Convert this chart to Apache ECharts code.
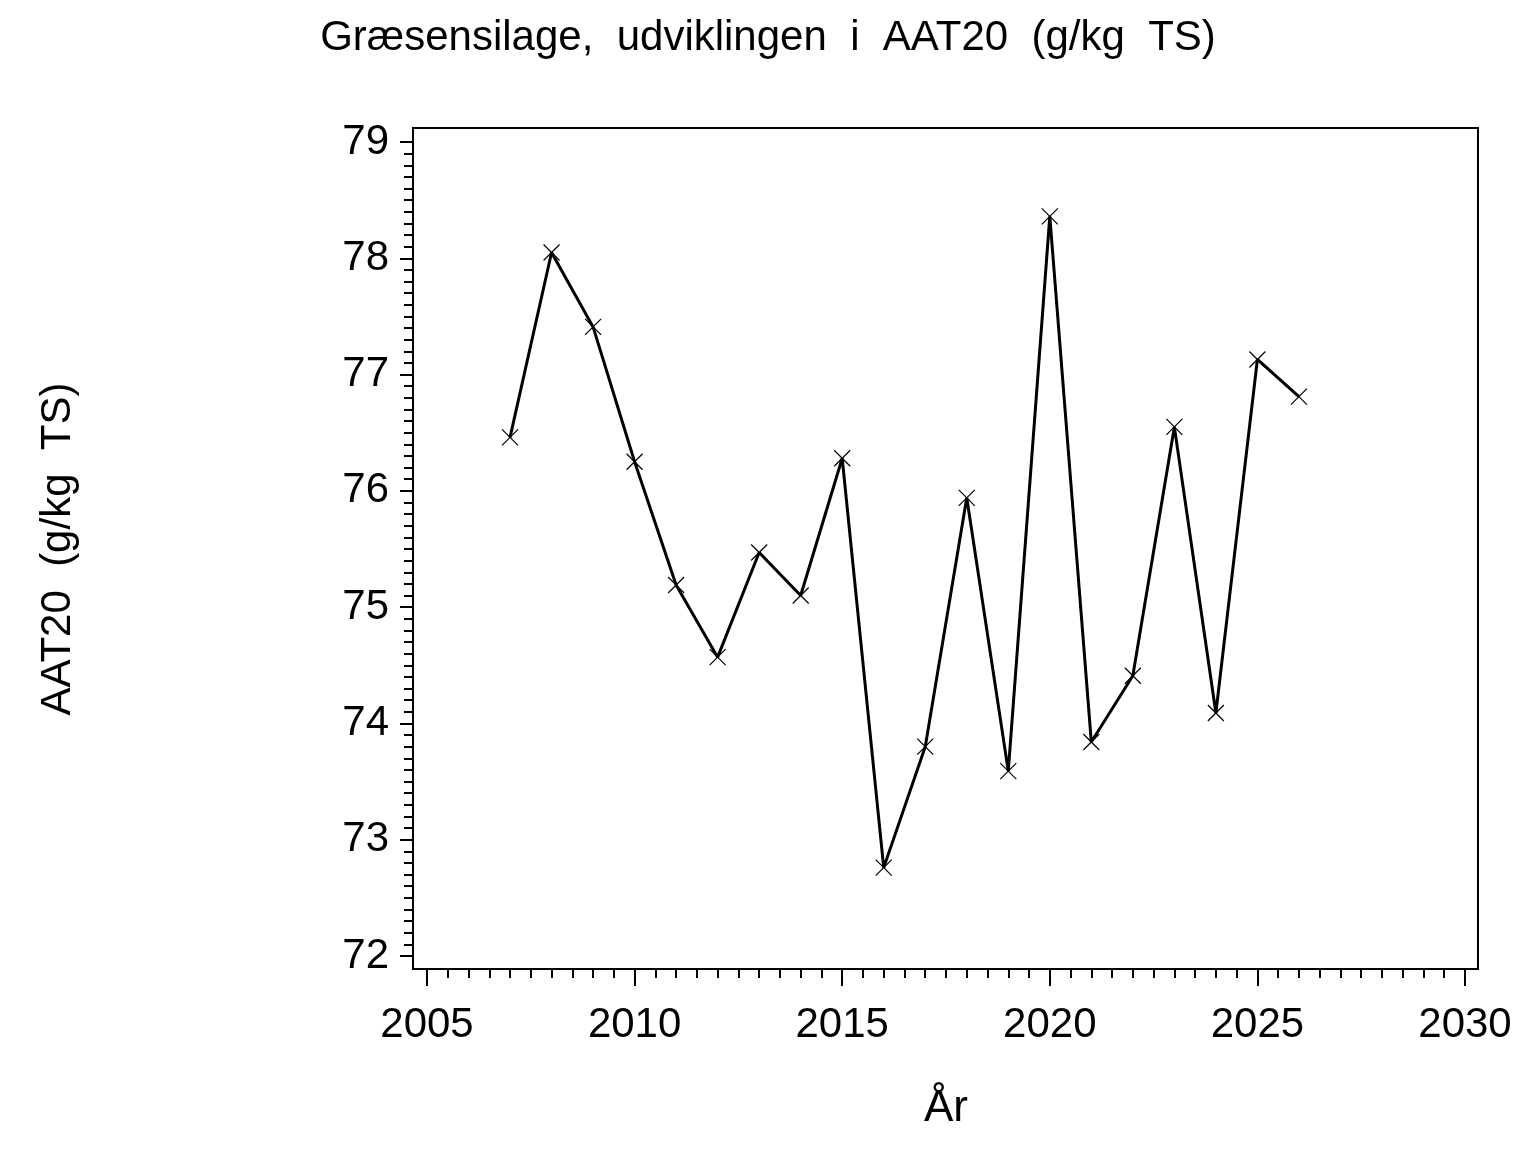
<!DOCTYPE html>
<html>
<head>
<meta charset="utf-8">
<script src="https://cdn.jsdelivr.net/npm/echarts@6/dist/echarts.min.js"></script>
<style>
  html, body { margin: 0; padding: 0; background: #fff; }
  #chart { width: 1536px; height: 1152px; }
</style>
</head>
<body>
<div id="chart"></div>
<script>
// data
const years = [2007, 2008, 2009, 2010, 2011, 2012, 2013, 2014, 2015, 2016,
               2017, 2018, 2019, 2020, 2021, 2022, 2023, 2024, 2025, 2026];
const aat20 = [76.46, 78.05, 77.41, 76.25, 75.19, 74.57, 75.47, 75.10, 76.28, 72.76,
               73.80, 75.94, 73.59, 78.36, 73.84, 74.41, 76.55, 74.09, 77.13, 76.81];

const titleText = 'Græsensilage,  udviklingen  i  AAT20  (g/kg  TS)';
const yName = 'AAT20  (g/kg  TS)';
const xName = 'År';

const font = '"Liberation Sans", Arial, sans-serif';

const chart = echarts.init(document.getElementById('chart'));

const option = {
  animation: false,
  backgroundColor: '#fff',
  title: {
    text: titleText,
    left: 'center',
    top: 12,
    textStyle: { fontFamily: font, fontSize: 42, fontWeight: 'normal', color: '#000' }
  },
  grid: { left: 427, right: 71, top: 142, bottom: 196 },
  graphic: [{
    type: 'rect',
    shape: { x: 413, y: 128, width: 1065, height: 841 },
    style: { fill: 'none', stroke: '#000', lineWidth: 2 },
    silent: true
  }],
  xAxis: {
    type: 'value',
    min: 2005, max: 2030, interval: 5,
    offset: 13,
    name: xName,
    nameLocation: 'middle',
    nameGap: 118,
    nameTextStyle: { fontFamily: font, fontSize: 44, color: '#000' },
    axisLine: { show: false },
    axisTick: { show: true, length: 17, lineStyle: { color: '#000', width: 2 } },
    minorTick: { show: true, splitNumber: 10, length: 9, lineStyle: { color: '#000', width: 2 } },
    splitLine: { show: false },
    axisLabel: { fontFamily: font, fontSize: 42, color: '#000', margin: 35, formatter: v => String(v) }
  },
  yAxis: {
    type: 'value',
    min: 72, max: 79, interval: 1,
    offset: 14,
    name: yName,
    nameLocation: 'middle',
    nameRotate: 90,
    nameGap: 334,
    nameTextStyle: { fontFamily: font, fontSize: 42, color: '#000' },
    axisLine: { show: false },
    axisTick: { show: true, length: 13, lineStyle: { color: '#000', width: 2 } },
    minorTick: { show: true, splitNumber: 10, length: 9, lineStyle: { color: '#000', width: 2 } },
    splitLine: { show: false },
    axisLabel: { fontFamily: font, fontSize: 42, color: '#000', margin: 24 }
  },
  series: [{
    type: 'line',
    data: years.map((y, i) => [y, aat20[i]]),
    symbol: 'path://M0,0L16,16M16,0L0,16',
    symbolSize: 16,
    showSymbol: true,
    lineStyle: { color: '#000', width: 3 },
    itemStyle: { color: 'rgba(0,0,0,0)', borderColor: '#000', borderWidth: 1.2 },
    emphasis: { disabled: true },
    silent: true
  }]
};

chart.setOption(option);
</script>
</body>
</html>
